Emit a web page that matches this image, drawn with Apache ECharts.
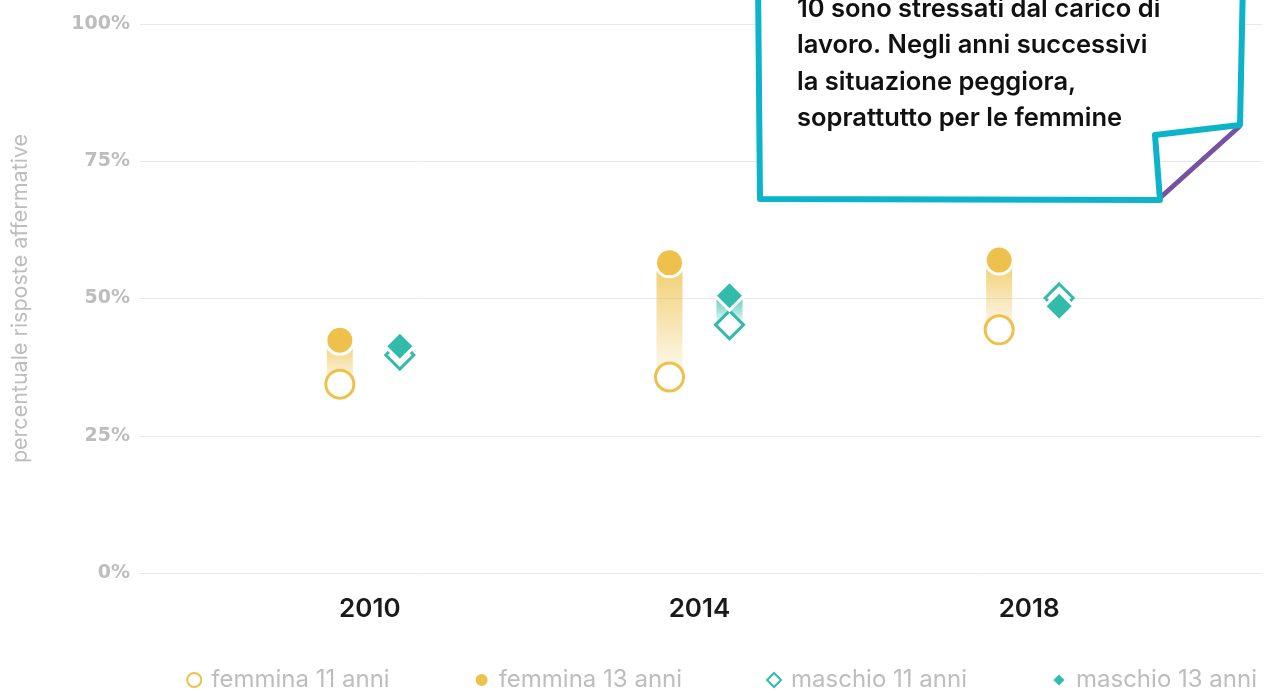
<!DOCTYPE html>
<html>
<head>
<meta charset="utf-8">
<script src="https://cdn.jsdelivr.net/npm/echarts@6/dist/echarts.min.js"></script>
<style>
  html, body { margin: 0; padding: 0; background: #fff; }
  #chart { width: 1274px; height: 693px; }
</style>
</head>
<body>
<div id="chart"></div>
<script>
// dati (percentuale risposte affermative)
var years = ['2010', '2014', '2018'];
var femmina11 = [34.4, 35.7, 44.3];
var femmina13 = [42.4, 56.5, 57.0];
var maschio11 = [39.7, 45.2, 50.1];
var maschio13 = [41.3, 50.5, 48.6];
var yTicks = [0, 25, 50, 75, 100];

var GIALLO = '#edc14b';
var VERDE = '#32bbaa';
var FONT = 'Inter, "Noto Sans", sans-serif';

var chart = echarts.init(document.getElementById('chart'));

// barra sfumata tra 11 e 13 anni
function rangeBar(offset, color) {
  return function (params, api) {
    var x = api.value(0);
    var p11 = api.coord([x, api.value(1)]);
    var p13 = api.coord([x, api.value(2)]);
    var top = Math.min(p11[1], p13[1]);
    var h = Math.abs(p11[1] - p13[1]);
    var stops = [
      { offset: 0, color: echarts.color.modifyAlpha(color, 0.8) },
      { offset: 1, color: echarts.color.modifyAlpha(color, 0.08) }
    ];
    var grad = p13[1] <= p11[1]
      ? new echarts.graphic.LinearGradient(0, 0, 0, 1, stops)
      : new echarts.graphic.LinearGradient(0, 1, 0, 0, stops);
    return {
      type: 'rect',
      shape: { x: p11[0] + offset - 13, y: top, width: 26, height: h },
      style: { fill: grad }
    };
  };
}

function zipData(a, b) {
  return years.map(function (y, i) { return [i, a[i], b[i]]; });
}

chart.setOption({
  animation: false,
  textStyle: { fontFamily: FONT },
  grid: [
    { left: 140, right: 12, top: 24, bottom: 120 },
    { left: 205, right: 80, top: 24, bottom: 120 }
  ],
  xAxis: [
    { gridIndex: 0, type: 'value', show: false, min: 0, max: 1 },
    {
      gridIndex: 1,
      type: 'category',
      data: years,
      axisLine: { show: false },
      axisTick: { show: false },
      axisLabel: { color: '#1a1a1a', fontSize: 26, fontWeight: 600, margin: 23, fontFamily: FONT }
    }
  ],
  yAxis: [
    {
      gridIndex: 0,
      type: 'value',
      min: 0,
      max: 100,
      interval: 25,
      name: 'percentuale risposte affermative',
      nameLocation: 'middle',
      nameGap: 108,
      nameTextStyle: { color: '#bdbdbd', fontSize: 21.5, fontFamily: FONT },
      axisLine: { show: false },
      axisTick: { show: false },
      axisLabel: {
        color: '#bdbdbd', fontSize: 19, fontWeight: 'bold', margin: 10, fontFamily: '"DejaVu Sans", sans-serif',
        formatter: function (v) { return yTicks.indexOf(v) >= 0 ? v + '%' : ''; }
      },
      splitLine: { lineStyle: { color: '#e8e8e8', width: 1 } }
    },
    { gridIndex: 1, type: 'value', min: 0, max: 100, show: false, splitLine: { show: false } }
  ],
  legend: {
    data: ['femmina 11 anni', 'femmina 13 anni', 'maschio 11 anni', 'maschio 13 anni'],
    top: 663,
    right: 12,
    itemGap: 84,
    itemWidth: 14,
    itemHeight: 14,
    textStyle: { color: '#bdbdbd', fontSize: 24, fontFamily: FONT, padding: [0, 0, 0, 5] }
  },
  series: [
    {
      type: 'custom', xAxisIndex: 1, yAxisIndex: 1, z: 1,
      renderItem: rangeBar(-30, GIALLO),
      data: zipData(femmina11, femmina13)
    },
    {
      type: 'custom', xAxisIndex: 1, yAxisIndex: 1, z: 1,
      renderItem: rangeBar(30, VERDE),
      data: zipData(maschio11, maschio13)
    },
    {
      name: 'femmina 11 anni', type: 'scatter', xAxisIndex: 1, yAxisIndex: 1, z: 2,
      symbol: 'circle', symbolSize: 28, symbolOffset: [-30, 0],
      itemStyle: { color: '#fff', borderColor: GIALLO, borderWidth: 3, opacity: 1 },
      data: femmina11
    },
    {
      name: 'femmina 13 anni', type: 'scatter', xAxisIndex: 1, yAxisIndex: 1, z: 3,
      symbol: 'circle', symbolSize: 28, symbolOffset: [-30, 0],
      itemStyle: { color: GIALLO, borderColor: '#fff', borderWidth: 3, opacity: 1 },
      data: femmina13
    },
    {
      name: 'maschio 11 anni', type: 'scatter', xAxisIndex: 1, yAxisIndex: 1, z: 2,
      symbol: 'diamond', symbolSize: 28, symbolOffset: [30, 0],
      itemStyle: { color: '#fff', borderColor: VERDE, borderWidth: 3, opacity: 1 },
      data: maschio11
    },
    {
      name: 'maschio 13 anni', type: 'scatter', xAxisIndex: 1, yAxisIndex: 1, z: 3,
      symbol: 'diamond', symbolSize: 29, symbolOffset: [30, 0],
      itemStyle: { color: VERDE, borderColor: '#fff', borderWidth: 3, opacity: 1 },
      data: maschio13
    }
  ],
  graphic: [
    {
      type: 'line', z: 100,
      shape: { x1: 1161, y1: 197, x2: 1240, y2: 126 },
      style: { stroke: '#7652a0', lineWidth: 5 }
    },
    {
      type: 'polygon', z: 101,
      shape: { points: [[758, -20], [760, 199], [1160, 200], [1155, 135], [1240, 125], [1243, -20]] },
      style: { fill: '#fff', stroke: '#0bb4c9', lineWidth: 6, lineJoin: 'round' }
    },
    {
      type: 'text', z: 102, left: 797, top: -9,
      style: {
        text: '10 sono stressati dal carico di\nlavoro. Negli anni successivi\nla situazione peggiora,\nsoprattutto per le femmine',
        fill: '#111', font: '600 25.5px Inter, "Noto Sans", sans-serif', lineHeight: 36.5
      }
    }
  ]
});
</script>
</body>
</html>
